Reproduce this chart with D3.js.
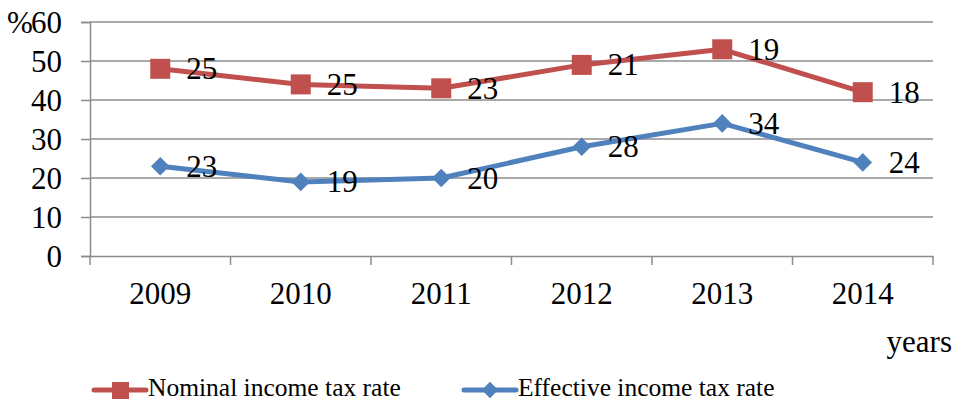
<!DOCTYPE html>
<html><head><meta charset="utf-8">
<script src="https://cdn.jsdelivr.net/npm/d3@7"></script>
<style>body{margin:0;background:#fff}svg{display:block}</style>
</head><body><svg id="c" width="954" height="401"></svg>
<script>
const years = ["2009","2010","2011","2012","2013","2014"];
const nominalPlot = [48,44,43,49,53,42];
const nominalLabels = [25,25,23,21,19,18];
const effective = [23,19,20,28,34,24];
const yTicks = [0,10,20,30,40,50,60];

const FONT = "'Liberation Serif','Times New Roman',serif";
const svg = d3.select("#c");
const L=90,R=933,T=22,B=256;
const x = d3.scaleBand().domain(years).range([L,R]);
const y = d3.scaleLinear().domain([0,60]).range([B,T]);
const fs = 31;
const gridC = "#8c8c8c";

// grid
svg.append("g").selectAll("line").data(yTicks.slice(1)).join("line")
  .attr("x1",L).attr("x2",R).attr("y1",d=>y(d)).attr("y2",d=>y(d))
  .attr("stroke",gridC).attr("stroke-width",1.5);
// y axis
const ya = svg.append("g").attr("transform",`translate(${L},0)`)
  .call(d3.axisLeft(y).tickValues(yTicks).tickSize(9).tickPadding(19));
ya.select(".domain").attr("stroke",gridC).attr("stroke-width",1.5);
ya.selectAll(".tick line").attr("stroke",gridC).attr("stroke-width",1.5);
ya.selectAll("text").style("font-family",FONT).style("font-size",fs+"px").attr("fill","#000").attr("dy","0.34em");
// x axis
const xa = svg.append("g").attr("transform",`translate(0,${B})`)
  .call(d3.axisBottom(x).tickSize(0).tickPadding(0));
xa.select(".domain").attr("stroke",gridC).attr("stroke-width",1.5);
xa.selectAll("text").style("font-family",FONT).style("font-size",fs+"px").attr("fill","#000").attr("y",48).attr("dy",0);
const edges = years.map(d=>x(d)).concat([R]);
xa.selectAll("line.tk").data(edges).join("line").attr("class","tk")
  .attr("x1",d=>d).attr("x2",d=>d).attr("y1",0).attr("y2",9)
  .attr("stroke",gridC).attr("stroke-width",1.5);

svg.append("text").attr("x",7).attr("y",y(60)).attr("dy","0.34em").style("font-family",FONT).style("font-size",fs+"px").text("%");
svg.append("text").attr("x",952).attr("y",352).attr("text-anchor","end").style("font-family",FONT).style("font-size",fs+"px").text("years");

const cx = d=>x(d)+x.bandwidth()/2;
const red="#C0504D", blue="#4F81BD";
const line = d3.line().x(d=>cx(d.year)).y(d=>y(d.v));
const nomData = years.map((yr,i)=>({year:yr,v:nominalPlot[i],label:nominalLabels[i]}));
const effData = years.map((yr,i)=>({year:yr,v:effective[i],label:effective[i]}));

svg.append("path").datum(effData).attr("d",line).attr("fill","none").attr("stroke",blue).attr("stroke-width",5).attr("stroke-linejoin","round");
svg.append("path").datum(nomData).attr("d",line).attr("fill","none").attr("stroke",red).attr("stroke-width",5).attr("stroke-linejoin","round");

const diamond = d3.symbol().type(d3.symbolDiamond2).size(220);
svg.append("g").selectAll("path").data(effData).join("path")
  .attr("d",diamond).attr("transform",d=>`translate(${cx(d.year)},${y(d.v)})`).attr("fill",blue);
svg.append("g").selectAll("rect").data(nomData).join("rect")
  .attr("x",d=>cx(d.year)-10).attr("y",d=>y(d.v)-10).attr("width",20).attr("height",20).attr("fill",red);

svg.append("g").selectAll("text").data(nomData.concat(effData)).join("text")
  .attr("x",d=>cx(d.year)+26).attr("y",d=>y(d.v)).attr("dy","0.34em")
  .style("font-family",FONT).style("font-size",fs+"px").text(d=>d.label);

// legend
const items=[{name:"Nominal income tax rate",c:red,m:"sq",x:92},{name:"Effective income tax rate",c:blue,m:"di",x:462}];
items.forEach(it=>{
  const g=svg.append("g").attr("transform",`translate(${it.x},390)`);
  g.append("line").attr("x1",2).attr("x2",54).attr("stroke",it.c).attr("stroke-width",5).attr("stroke-linecap","round");
  if(it.m==="sq") g.append("rect").attr("x",20).attr("y",-8).attr("width",17).attr("height",17).attr("fill",it.c);
  else g.append("path").attr("d",d3.symbol().type(d3.symbolDiamond2).size(170)).attr("transform","translate(28,0)").attr("fill",it.c);
  g.append("text").attr("x",56).attr("y",6).style("font-family",FONT).style("font-size","25.5px").text(it.name);
});
</script></body></html>
